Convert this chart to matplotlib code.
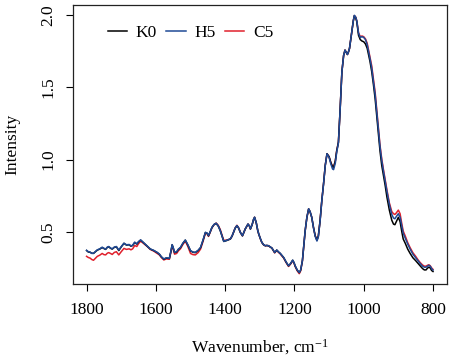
import matplotlib
matplotlib.use("Agg")
import matplotlib.pyplot as plt

plt.rcParams['font.family'] = ['Liberation Serif', 'DejaVu Serif']
plt.rcParams['mathtext.default'] = 'regular'

# wavenumbers (cm-1), descending like the original spectrum
wavenumber = [
    1800, 1795, 1790, 1785, 1780, 1775, 1769, 1762, 1755, 1750,
    1745, 1740, 1736, 1731, 1726, 1720, 1714, 1707, 1700, 1692,
    1685, 1677, 1672, 1667, 1661, 1655, 1650, 1644, 1636, 1625,
    1616, 1606, 1596, 1590, 1584, 1577, 1570, 1561, 1556, 1553,
    1550, 1546, 1540, 1535, 1529, 1522, 1515, 1508, 1500, 1493,
    1486, 1478, 1471, 1464, 1457, 1452, 1448, 1443, 1438, 1432,
    1426, 1420, 1414, 1409, 1404, 1395, 1385, 1380, 1376, 1371,
    1366, 1361, 1356, 1350, 1346, 1342, 1334, 1330, 1327, 1322,
    1318, 1315, 1310, 1306, 1303, 1298, 1294, 1289, 1284, 1280,
    1275, 1270, 1265, 1260, 1257, 1254, 1251, 1246, 1241, 1236,
    1231, 1224, 1217, 1211, 1205, 1201, 1198, 1192, 1186, 1182,
    1177, 1173, 1169, 1164, 1159, 1155, 1150, 1145, 1140, 1135,
    1131, 1126, 1121, 1116, 1111, 1106, 1100, 1095, 1090, 1087,
    1082, 1078, 1073, 1068, 1063, 1058, 1054, 1050, 1047, 1044,
    1041, 1037, 1034, 1030, 1027, 1023, 1020, 1017, 1015, 1010,
    1005, 1000, 995, 990, 987, 982, 977, 972, 967, 962,
    957, 953, 948, 943, 938, 933, 926, 919, 914, 910,
    906, 900, 895, 890, 886, 880, 873, 866, 858, 850,
    843, 837, 830, 825, 820, 816, 812, 808, 804, 800,
]

k0 = [
    .370, .360, .358, .352, .350, .360, .373, .380, .391, .384,
    .378, .392, .396, .386, .380, .392, .396, .370, .395, .420,
    .408, .410, .400, .405, .426, .415, .430, .442, .425, .400,
    .380, .370, .356, .345, .326, .310, .318, .315, .370, .410,
    .390, .356, .360, .378, .390, .420, .442, .410, .368, .358,
    .356, .370, .390, .440, .495, .490, .472, .500, .530, .550,
    .558, .540, .507, .470, .433, .440, .450, .470, .495, .525,
    .542, .525, .495, .472, .495, .519, .553, .540, .519, .550,
    .585, .600, .560, .510, .484, .450, .426, .410, .403, .405,
    .403, .395, .387, .368, .356, .365, .373, .360, .350, .335,
    .321, .290, .264, .280, .303, .285, .264, .235, .217, .235,
    .299, .400, .507, .600, .658, .640, .600, .530, .472, .442,
    .470, .576, .715, .831, .960, 1.040, 1.020, .980, .950, .947,
    .990, 1.060, 1.120, 1.350, 1.606, 1.720, 1.757, 1.740, 1.727, 1.745,
    1.769, 1.840, 1.896, 1.960, 1.995, 1.980, 1.954, 1.900, 1.860, 1.830,
    1.820, 1.815, 1.800, 1.770, 1.735, 1.680, 1.610, 1.520, 1.420, 1.290,
    1.160, 1.060, .960, .890, .820, .740, .650, .580, .553, .549,
    .570, .600, .570, .500, .450, .420, .380, .350, .320, .300,
    .280, .264, .245, .236, .236, .248, .255, .250, .232, .225,
]

h5 = [
    .372, .362, .360, .350, .352, .362, .375, .382, .393, .386,
    .380, .394, .398, .388, .382, .394, .398, .374, .397, .421,
    .410, .412, .402, .407, .428, .417, .432, .444, .426, .401,
    .381, .371, .357, .346, .327, .312, .320, .317, .372, .411,
    .391, .358, .362, .380, .392, .421, .443, .412, .370, .360,
    .358, .372, .392, .442, .496, .491, .474, .501, .531, .551,
    .559, .541, .508, .471, .434, .441, .451, .471, .496, .526,
    .543, .526, .496, .473, .496, .520, .554, .541, .520, .551,
    .586, .601, .561, .511, .485, .451, .427, .411, .404, .406,
    .404, .396, .388, .369, .357, .366, .374, .361, .351, .336,
    .322, .291, .265, .281, .304, .286, .265, .236, .218, .236,
    .300, .401, .508, .601, .659, .641, .600, .528, .468, .436,
    .465, .572, .712, .829, .958, 1.040, 1.015, .970, .935, .930,
    .975, 1.050, 1.115, 1.348, 1.605, 1.720, 1.757, 1.740, 1.727, 1.745,
    1.769, 1.840, 1.896, 1.960, 1.998, 1.985, 1.960, 1.910, 1.875, 1.845,
    1.850, 1.845, 1.830, 1.795, 1.760, 1.700, 1.635, 1.545, 1.450, 1.320,
    1.195, 1.090, .995, .920, .850, .780, .690, .620, .595, .590,
    .605, .625, .600, .540, .490, .455, .415, .380, .345, .320,
    .298, .280, .262, .255, .255, .262, .268, .262, .245, .235,
]

c5 = [
    .330, .322, .318, .308, .303, .315, .330, .338, .350, .342,
    .340, .352, .356, .350, .343, .357, .362, .340, .362, .385,
    .378, .382, .375, .382, .405, .398, .418, .435, .420, .398,
    .378, .366, .350, .340, .322, .305, .312, .310, .365, .405,
    .380, .345, .350, .368, .382, .412, .435, .400, .350, .342,
    .340, .356, .380, .432, .490, .486, .468, .497, .528, .549,
    .560, .545, .515, .478, .440, .443, .450, .470, .495, .527,
    .545, .527, .495, .472, .495, .519, .553, .540, .519, .550,
    .585, .600, .560, .510, .484, .450, .426, .410, .403, .405,
    .403, .395, .387, .366, .354, .363, .371, .358, .347, .332,
    .318, .287, .260, .277, .300, .282, .260, .230, .210, .230,
    .297, .398, .506, .600, .658, .640, .600, .530, .472, .442,
    .470, .576, .715, .831, .960, 1.040, 1.020, .980, .950, .947,
    .990, 1.060, 1.120, 1.350, 1.606, 1.720, 1.757, 1.740, 1.727, 1.745,
    1.769, 1.840, 1.896, 1.960, 1.995, 1.985, 1.960, 1.912, 1.878, 1.850,
    1.855, 1.850, 1.835, 1.805, 1.770, 1.715, 1.650, 1.560, 1.465, 1.335,
    1.210, 1.100, 1.005, .930, .860, .790, .700, .640, .625, .620,
    .630, .650, .625, .555, .505, .470, .425, .390, .355, .330,
    .305, .287, .270, .262, .262, .268, .272, .265, .250, .240,
]

x_ticks = [1800, 1600, 1400, 1200, 1000, 800]
y_ticks = [0.5, 1.0, 1.5, 2.0]

fig = plt.figure(figsize=(4.5, 3.56), dpi=100)
ax = fig.add_axes([0.1616, 0.2022, 0.8314, 0.7838])

# red first so the black/blue sit over it where they coincide
ax.plot(wavenumber, c5, color='#e0202c', lw=1.1, label='C5', zorder=2)
ax.plot(wavenumber, k0, color='black', lw=1.1, label='K0', zorder=3)
ax.plot(wavenumber, h5, color='#1f4a96', lw=1.1, label='H5', zorder=4)

ax.set_xlim(1840, 760)
ax.set_ylim(0.1385, 2.0695)
ax.set_xticks(x_ticks)
ax.set_yticks(y_ticks)
ax.set_yticklabels(['0.5', '1.0', '1.5', '2.0'])

ax.tick_params(axis='both', direction='out', length=5, width=0.8,
               labelsize=12.5, colors='black')
ax.tick_params(axis='x', pad=8)
ax.tick_params(axis='y', pad=7, labelrotation=90)
for lab in ax.get_yticklabels():
    lab.set_va('center')

for sp in ax.spines.values():
    sp.set_linewidth(0.9)
    sp.set_color('#222222')

ax.set_xlabel(r'Wavenumber, cm$^{-1}$', fontsize=12.5, labelpad=14)
ax.set_ylabel('Intensity', fontsize=12.5, labelpad=14)

handles, labels = ax.get_legend_handles_labels()
order = [1, 2, 0]
ax.legend([handles[i] for i in order], [labels[i] for i in order],
          loc='center left', bbox_to_anchor=(0.094, 0.9), ncol=3,
          frameon=False, fontsize=12.5, handlelength=1.1,
          handletextpad=0.5, columnspacing=0.55, borderpad=0,
          borderaxespad=0)

fig.savefig('out.png', dpi=100)
